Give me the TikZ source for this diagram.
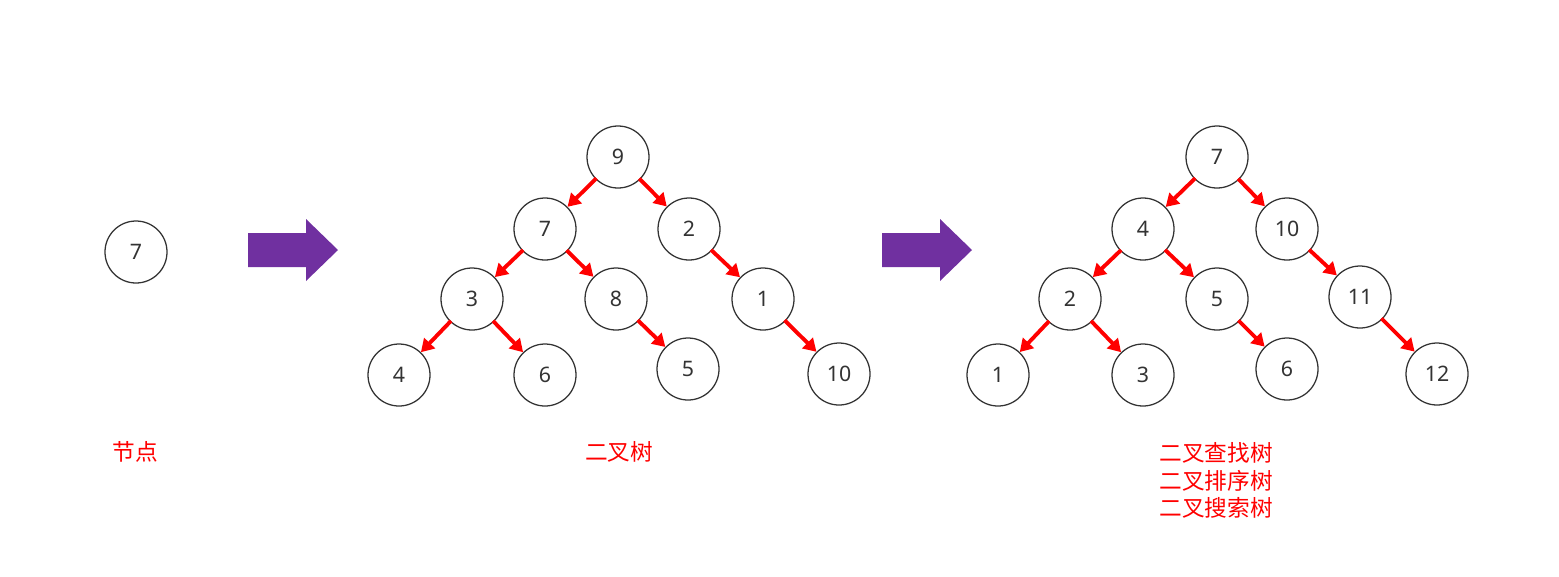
\documentclass[tikz,border=0pt]{standalone}
\usepackage{fontspec}
\setmainfont{Noto Sans CJK SC}
\newfontfamily\digitfont{Noto Sans}
\usepackage{tikz}
\usetikzlibrary{arrows.meta}
\definecolor{nodeborder}{HTML}{333333}
\definecolor{nodetext}{HTML}{333333}
\definecolor{linkred}{HTML}{FF0000}
\definecolor{stagepurple}{HTML}{7030A0}
\tikzset{
    treenode/.style={
        circle, draw=nodeborder, line width=0.95pt, fill=white,
        minimum size=46.5pt, inner sep=0pt,
        font=\digitfont\fontsize{16}{19}\selectfont, text=nodetext
    },
    link/.style={
        -{Triangle[length=9.5pt, width=11pt]}, line width=2.9pt,
        color=linkred, shorten <=-1pt
    },
    caption/.style={
        font=\fontsize{17}{20.5}\selectfont, text=linkred, align=center
    },
}
\newcommand{\stagearrow}[2]{%
    \fill[stagepurple] (#1,#2-17) -- ++(58,0) -- ++(0,-14) -- ++(32,31)
        -- ++(-32,31) -- ++(0,-14) -- ++(-58,0) -- cycle;}

\begin{document}
\begin{tikzpicture}[x=0.75pt, y=-0.75pt]
    \useasboundingbox (0,0) rectangle (1559,576);

    % Single node
    \node[treenode] (single) at (136,252) {7};
    \node[caption] (capnode) at (135,452) {节点};

    \stagearrow{248}{250}

    % Binary tree
    \node[treenode] (a9) at (618,157) {9};
    \node[treenode] (a7) at (545,229) {7};
    \node[treenode] (a2) at (689,229) {2};
    \node[treenode] (a3) at (472,299) {3};
    \node[treenode] (a8) at (616,299) {8};
    \node[treenode] (a1) at (763,299) {1};
    \node[treenode] (a4) at (399,375) {4};
    \node[treenode] (a6) at (545,375) {6};
    \node[treenode] (a5) at (688,369) {5};
    \node[treenode] (a10) at (839,374) {10};

    \draw[link] (a9) -- (a7);
    \draw[link] (a9) -- (a2);
    \draw[link] (a7) -- (a3);
    \draw[link] (a7) -- (a8);
    \draw[link] (a2) -- (a1);
    \draw[link] (a3) -- (a4);
    \draw[link] (a3) -- (a6);
    \draw[link] (a8) -- (a5);
    \draw[link] (a1) -- (a10);

    \node[caption] (captree) at (619,452) {二叉树};

    \stagearrow{882}{250}

    % Binary search tree
    \node[treenode] (b7) at (1217,157) {7};
    \node[treenode] (b4) at (1143,229) {4};
    \node[treenode] (b10) at (1287,229) {10};
    \node[treenode] (b2) at (1070,299) {2};
    \node[treenode] (b5) at (1217,299) {5};
    \node[treenode] (b11) at (1360,297) {11};
    \node[treenode] (b1) at (998,375) {1};
    \node[treenode] (b3) at (1143,375) {3};
    \node[treenode] (b6) at (1287,369) {6};
    \node[treenode] (b12) at (1437,374) {12};

    \draw[link] (b7) -- (b4);
    \draw[link] (b7) -- (b10);
    \draw[link] (b4) -- (b2);
    \draw[link] (b4) -- (b5);
    \draw[link] (b10) -- (b11);
    \draw[link] (b2) -- (b1);
    \draw[link] (b2) -- (b3);
    \draw[link] (b5) -- (b6);
    \draw[link] (b11) -- (b12);

    \node[caption, anchor=north] (capbst) at (1216,438) {二叉查找树\\二叉排序树\\二叉搜索树};
\end{tikzpicture}
\end{document}
